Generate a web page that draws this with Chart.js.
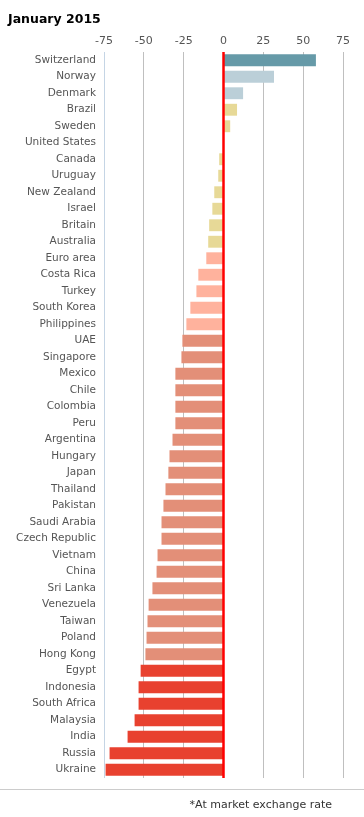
<!DOCTYPE html>
<html>
<head>
<meta charset="utf-8">
<script src="https://cdn.jsdelivr.net/npm/chart.js@4/dist/chart.umd.min.js"></script>
<style>
  html, body { margin: 0; padding: 0; background: #fff; }
  body { width: 364px; height: 817px; position: relative; overflow: hidden; font-family: "DejaVu Sans", Verdana, sans-serif; }
  #title { position: absolute; left: 8px; top: 11px; font-weight: bold; font-size: 12.5px; color: #000; }
  #wrap { position: absolute; left: 0; top: 0; width: 364px; height: 817px; }
  #rule { position: absolute; left: 0; top: 789px; width: 364px; height: 0; border-top: 1px solid #cccccc; }
  #note { position: absolute; right: 32px; top: 798px; font-size: 11px; color: #333; }
</style>
</head>
<body>
<div id="wrap"><canvas id="c" width="364" height="817"></canvas></div>
<div id="title">January 2015</div>
<div id="rule"></div>
<div id="note">*At market exchange rate</div>
<script>
const countries = ["Switzerland","Norway","Denmark","Brazil","Sweden","United States","Canada","Uruguay","New Zealand","Israel","Britain","Australia","Euro area","Costa Rica","Turkey","South Korea","Philippines","UAE","Singapore","Mexico","Chile","Colombia","Peru","Argentina","Hungary","Japan","Thailand","Pakistan","Saudi Arabia","Czech Republic","Vietnam","China","Sri Lanka","Venezuela","Taiwan","Poland","Hong Kong","Egypt","Indonesia","South Africa","Malaysia","India","Russia","Ukraine"];
const values = [58, 31.7, 12.3, 8.5, 4.2, 0, -2.7, -3.3, -5.8, -7, -9, -9.6, -10.8, -15.8, -17, -20.8, -23.3, -25.8, -26.4, -30.2, -30.2, -30.2, -30.2, -32, -33.9, -34.6, -36.4, -37.7, -38.9, -38.9, -41.4, -42, -44.6, -47, -47.7, -48.3, -49, -52, -53.3, -53.3, -55.8, -60.2, -71.5, -74];
const xTicks = [-75, -50, -25, 0, 25, 50, 75];

function colorFor(v) {
  if (v >= 50) return '#669aa8';
  if (v >= 10) return '#bbcfd8';
  if (v > -10) return '#e7d997';
  if (v > -25) return '#ffb29d';
  if (v > -50) return '#e38f78';
  return '#e8412f';
}

const zeroLine = {
  id: 'zeroLine',
  afterDatasetsDraw(chart) {
    const x = chart.scales.x.getPixelForValue(0);
    const a = chart.chartArea;
    const ctx = chart.ctx;
    ctx.save();
    ctx.strokeStyle = '#ff0000';
    ctx.lineWidth = 2.5;
    ctx.beginPath();
    ctx.moveTo(x, a.top);
    ctx.lineTo(x, a.bottom);
    ctx.stroke();
    ctx.restore();
  }
};

new Chart(document.getElementById('c'), {
  type: 'bar',
  data: {
    labels: countries,
    datasets: [{
      data: values,
      backgroundColor: values.map(colorFor),
      barPercentage: 0.72,
      categoryPercentage: 1
    }]
  },
  options: {
    indexAxis: 'y',
    responsive: false,
    animation: false,
    layout: { padding: { top: 32, left: 0, right: 21, bottom: 39 } },
    plugins: { legend: { display: false }, tooltip: { enabled: false } },
    scales: {
      x: {
        position: 'top',
        min: -75, max: 75,
        afterBuildTicks(scale) { scale.ticks = xTicks.map(v => ({ value: v })); },
        afterFit(scale) { scale.height = 20; },
        border: { display: false },
        grid: {
          drawTicks: false,
          color: ctx => ctx.tick && ctx.tick.value === -75 ? '#c5d5e5' : '#bfbfbf',
          lineWidth: 1
        },
        ticks: { color: '#555', font: { family: 'DejaVu Sans', size: 11 }, padding: 4 }
      },
      y: {
        afterFit(scale) { scale.width = 104; },
        border: { display: false },
        grid: { display: false, drawTicks: false },
        ticks: { color: '#555', font: { family: 'DejaVu Sans', size: 10.5 }, padding: 8, autoSkip: false }
      }
    }
  },
  plugins: [zeroLine]
});
</script>
</body>
</html>
